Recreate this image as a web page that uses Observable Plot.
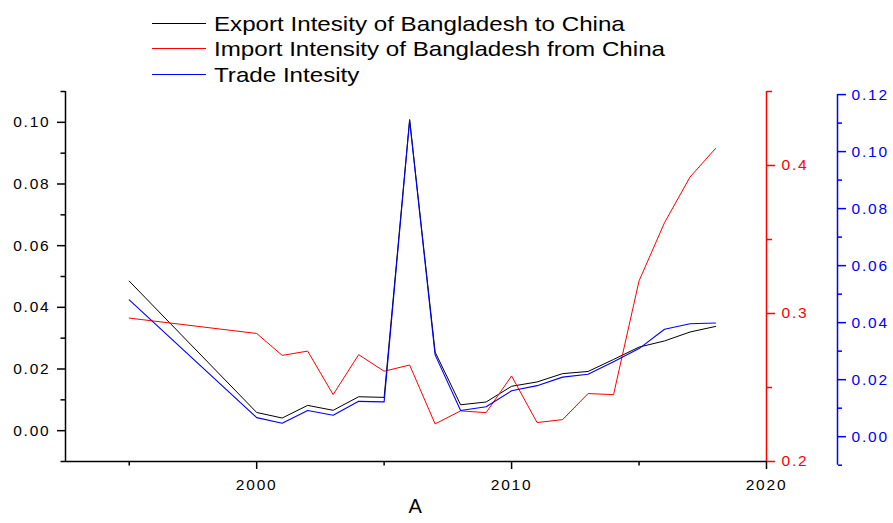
<!DOCTYPE html>
<html>
<head>
<meta charset="utf-8">
<script src="https://cdn.jsdelivr.net/npm/d3@7"></script>
<script src="https://cdn.jsdelivr.net/npm/@observablehq/plot@0.6"></script>
<style>
  html, body { margin: 0; padding: 0; background: #fff; }
  #wrap { position: relative; width: 893px; height: 523px; font-family: "Liberation Sans", Arial, sans-serif; }
  #legend { position: absolute; left: 152px; top: 0; }
  .row { position: absolute; left: 0; display: flex; align-items: center; height: 27px; }
  .swatch { width: 54px; height: 1px; margin-right: 8px; }
  .label { font-size: 21px; white-space: nowrap; transform: scaleX(1.15); transform-origin: left center; color: #000; }
</style>
</head>
<body>
<div id="wrap">
  <div id="chart"></div>
  <div id="legend"></div>
</div>
<script>
// Bangladesh–China trade intensity indices by year
const years = [1995, 2000, 2001, 2002, 2003, 2004, 2005, 2006, 2007, 2008, 2009,
               2010, 2011, 2012, 2013, 2014, 2015, 2016, 2017, 2018];
const exportIntensity = [0.0485, 0.0059, 0.0041, 0.0082, 0.0066, 0.0110, 0.0108, 0.1009, 0.0255, 0.0084,
                         0.0093, 0.0144, 0.0158, 0.0185, 0.0192, 0.0231, 0.0271, 0.0291, 0.0320, 0.0338];
const importIntensity = [0.2969, 0.2865, 0.2717, 0.2746, 0.2452, 0.2722, 0.2610, 0.2652, 0.2254, 0.2342,
                         0.2330, 0.2578, 0.2263, 0.2283, 0.2459, 0.2452, 0.3220, 0.3614, 0.3922, 0.4115];
const tradeIntensity  = [0.0480, 0.0067, 0.0047, 0.0092, 0.0075, 0.0124, 0.0122, 0.1109, 0.0287, 0.0092,
                         0.0105, 0.0161, 0.0179, 0.0209, 0.0219, 0.0263, 0.0309, 0.0377, 0.0396, 0.0399];

const seriesNames = ["Export Intesity of Bangladesh to China",
                     "Import Intensity of Bangladesh from China",
                     "Trade Intesity"];

// Tick values for the three y axes and the x axis
const xTicks = [2000, 2010, 2020];
const xMinor = [1995, 2005, 2015];
const leftTicks = [0, 0.02, 0.04, 0.06, 0.08, 0.10];
const leftMinor = [-0.01, 0.01, 0.03, 0.05, 0.07, 0.09, 0.11];
const redTicks = [0.2, 0.3, 0.4];
const redMinor = [0.25, 0.35, 0.45];
const blueTicks = [0, 0.02, 0.04, 0.06, 0.08, 0.10, 0.12];
const blueMinor = [-0.01, 0.01, 0.03, 0.05, 0.07, 0.09, 0.11];

const BLACK = "#000000", RED = "#ff0000", BLUE = "#0000ff";

const xDomain = [1992.5, 2020];
const leftDomain = [-0.01, 0.11];
const redDomain = [0.2, 0.45];
const blueDomain = [-0.01, 0.12];

// Plot has one y scale: the import and trade series are expressed in
// export-axis units. The trade axis sits a touch lower than the frame.
const redToLeft = d3.scaleLinear().domain(redDomain).range(leftDomain);
const blueToLeft = d3.scaleLinear().domain(blueDomain).range([-0.0112, 0.109]);

const rows = years.map((year, i) => ({
  year,
  exp: exportIntensity[i],
  imp: importIntensity[i],
  trade: tradeIntensity[i]
}));

const f2 = d3.format(".2f"), f1 = d3.format(".1f");
const BLUE_DX = 71;

const chart = Plot.plot({
  width: 893,
  height: 523,
  marginTop: 91,
  marginBottom: 62,
  marginLeft: 65,
  marginRight: 127,
  style: {
    fontFamily: "'Liberation Sans', Arial, sans-serif",
    fontSize: "15.5px",
    letterSpacing: "1.8px",
    color: BLACK,
    background: "#fff",
    overflow: "visible"
  },
  x: {domain: xDomain, label: null},
  y: {domain: leftDomain, label: null},
  marks: [
    // data series
    Plot.line(rows, {x: "year", y: "exp", stroke: BLACK, strokeWidth: 1}),
    Plot.line(rows, {x: "year", y: d => redToLeft(d.imp), stroke: RED, strokeWidth: 1}),
    Plot.line(rows, {x: "year", y: d => blueToLeft(d.trade), stroke: BLUE, strokeWidth: 1.1}),

    // axis lines
    Plot.ruleX([xDomain[0]], {stroke: BLACK, strokeWidth: 1.5}),
    Plot.ruleY([leftDomain[0]], {stroke: BLACK, strokeWidth: 1.5}),
    Plot.ruleX([xDomain[1]], {stroke: RED, strokeWidth: 1.5}),
    Plot.ruleX([xDomain[1]], {
      stroke: BLUE, strokeWidth: 1.5, dx: BLUE_DX,
      y1: () => blueToLeft(blueDomain[0]), y2: () => blueToLeft(blueDomain[1])
    }),

    // x axis
    Plot.axisX(xTicks, {anchor: "bottom", tickSize: 8, tickPadding: 9, strokeWidth: 1.5,
      tickFormat: d => String(d), label: null}),
    Plot.axisX(xMinor, {anchor: "bottom", tickSize: 4.5, strokeWidth: 1.5, fill: "none", label: null}),

    // left axis: export intensity
    Plot.axisY(leftTicks, {anchor: "left", tickSize: 8, tickPadding: 7, strokeWidth: 1.5,
      tickFormat: f2, label: null}),
    Plot.axisY(leftMinor, {anchor: "left", tickSize: 4.5, strokeWidth: 1.5, fill: "none", label: null}),

    // first right axis: import intensity
    Plot.axisY(redTicks.map(redToLeft), {anchor: "right", tickSize: 8, tickPadding: 7, strokeWidth: 1.5,
      stroke: RED, fill: RED, tickFormat: v => f1(redToLeft.invert(v)), label: null}),
    Plot.axisY(redMinor.map(redToLeft), {anchor: "right", tickSize: 5, strokeWidth: 1.5,
      stroke: RED, fill: "none", label: null}),

    // second right axis: trade intensity
    Plot.axisY(blueTicks.map(blueToLeft), {anchor: "right", dx: BLUE_DX, tickSize: 8, tickPadding: 6,
      strokeWidth: 1.5, stroke: BLUE, fill: BLUE, tickFormat: v => f2(Math.abs(blueToLeft.invert(v)) < 1e-9 ? 0 : blueToLeft.invert(v)), label: null}),
    Plot.axisY(blueMinor.map(blueToLeft), {anchor: "right", dx: BLUE_DX, tickSize: 4, strokeWidth: 1.5,
      stroke: BLUE, fill: "none", label: null}),

    // x axis title
    Plot.text(["A"], {text: d => d, frameAnchor: "bottom", dy: 51, fontSize: 20, fill: BLACK})
  ]
});

document.getElementById("chart").appendChild(chart);

// legend: one row per series, swatch line then name
const legend = d3.select("#legend");
const colors = [BLACK, RED, BLUE];
const rowTops = [10, 35, 61];
seriesNames.forEach((name, i) => {
  const row = legend.append("div").attr("class", "row").style("top", `${rowTops[i]}px`);
  row.append("span").attr("class", "swatch").style("background", colors[i]);
  row.append("span").attr("class", "label").text(name);
});
</script>
</body>
</html>
